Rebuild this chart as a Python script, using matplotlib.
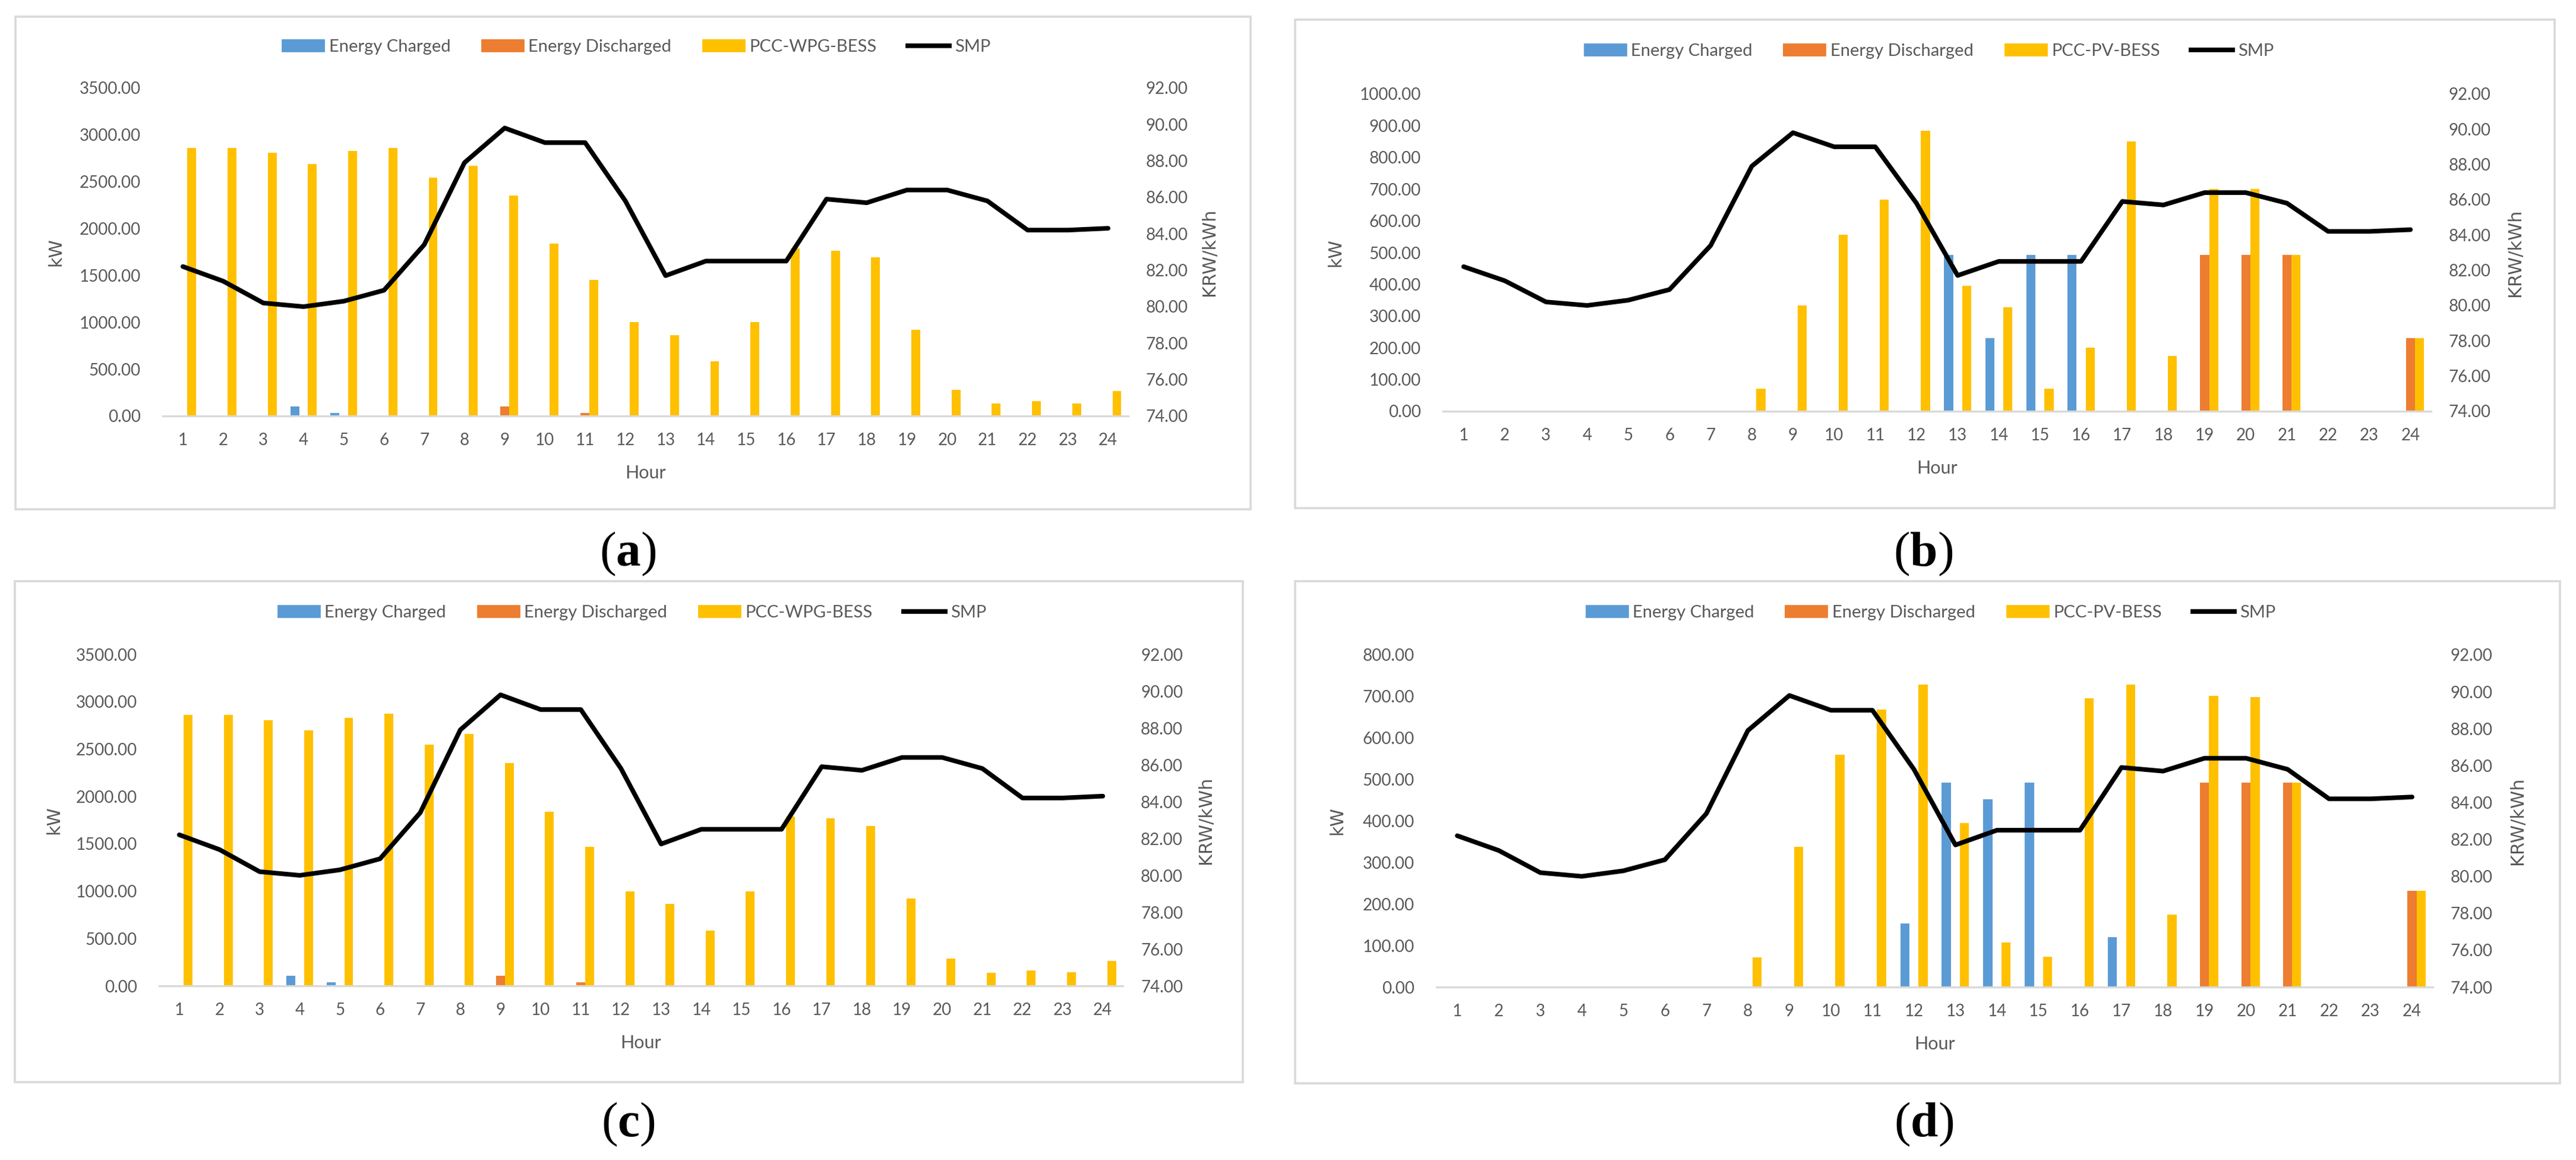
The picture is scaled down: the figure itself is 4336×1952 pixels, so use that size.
import numpy as np
import matplotlib
matplotlib.use('Agg')
import matplotlib.pyplot as plt
from matplotlib.patches import Rectangle, Patch
from matplotlib.lines import Line2D
from matplotlib.ticker import FormatStrFormatter

plt.rcParams['font.family'] = ['Lato', 'DejaVu Sans']
plt.rcParams['mathtext.fontset'] = 'custom'
plt.rcParams['mathtext.rm'] = 'Liberation Serif'
plt.rcParams['mathtext.bf'] = 'Liberation Serif:bold'

# ---- data ----
hours = [1, 2, 3, 4, 5, 6, 7, 8, 9, 10, 11, 12, 13, 14, 15, 16, 17, 18, 19, 20, 21, 22, 23, 24]
smp = [82.2, 81.4, 80.2, 80.0, 80.3, 80.9, 83.4, 87.9, 89.8, 89.0, 89.0, 85.8,
       81.7, 82.5, 82.5, 82.5, 85.9, 85.7, 86.4, 86.4, 85.8, 84.2, 84.2, 84.3]

# (a) wind, case 1
charged_a = [0, 0, 0, 100, 30, 0, 0, 0, 0, 0, 0, 0, 0, 0, 0, 0, 0, 0, 0, 0, 0, 0, 0, 0]
discharged_a = [0, 0, 0, 0, 0, 0, 0, 0, 100, 0, 30, 0, 0, 0, 0, 0, 0, 0, 0, 0, 0, 0, 0, 0]
pcc_a = [2860, 2860, 2810, 2690, 2830, 2860, 2540, 2670, 2350, 1840, 1450, 1000,
         865, 585, 1000, 1790, 1760, 1690, 920, 280, 135, 160, 135, 265]

# (b) PV, case 1
charged_b = [0, 0, 0, 0, 0, 0, 0, 0, 0, 0, 0, 0, 492, 230, 492, 492, 0, 0, 0, 0, 0, 0, 0, 0]
discharged_b = [0, 0, 0, 0, 0, 0, 0, 0, 0, 0, 0, 0, 0, 0, 0, 0, 0, 0, 492, 492, 492, 0, 0, 230]
pcc_b = [0, 0, 0, 0, 0, 0, 0, 72, 333, 556, 666, 883,
         395, 327, 72, 201, 850, 174, 700, 700, 492, 0, 0, 230]

# (c) wind, case 2
charged_c = [0, 0, 0, 105, 40, 0, 0, 0, 0, 0, 0, 0, 0, 0, 0, 0, 0, 0, 0, 0, 0, 0, 0, 0]
discharged_c = [0, 0, 0, 0, 0, 0, 0, 0, 105, 0, 40, 0, 0, 0, 0, 0, 0, 0, 0, 0, 0, 0, 0, 0]
pcc_c = [2860, 2860, 2805, 2700, 2830, 2870, 2545, 2660, 2350, 1835, 1470, 995,
         865, 585, 995, 1790, 1770, 1685, 920, 290, 135, 160, 145, 265]

# (d) PV, case 2
charged_d = [0, 0, 0, 0, 0, 0, 0, 0, 0, 0, 0, 153, 492, 452, 492, 0, 120, 0, 0, 0, 0, 0, 0, 0]
discharged_d = [0, 0, 0, 0, 0, 0, 0, 0, 0, 0, 0, 0, 0, 0, 0, 0, 0, 0, 492, 492, 492, 0, 0, 232]
pcc_d = [0, 0, 0, 0, 0, 0, 0, 71, 338, 559, 669, 729,
         395, 108, 73, 696, 729, 175, 701, 698, 492, 0, 0, 232]

BLUE = '#5B9BD5'
ORANGE = '#ED7D31'
YELLOW = '#FFC000'
GRAY_TXT = '#595959'
GRAY_LINE = '#D9D9D9'

W, H = 4336, 1952
DPI = 200


def fx(px):
    return px / W


def fy(py):
    return 1 - py / H


def draw_panel(fig, box, plot, leg_xy, kw_x, krw_x, tag, tag_xy,
               charged, discharged, pcc, pcc_name, ymax, ystep):
    # outer frame of the panel
    bx0, by0, bx1, by1 = box
    fig.add_artist(Rectangle((fx(bx0), fy(by1)), (bx1 - bx0) / W, (by1 - by0) / H,
                             transform=fig.transFigure, fill=False,
                             ec=GRAY_LINE, lw=1.3))
    px0, py0, px1, py1 = plot
    ax = fig.add_axes([fx(px0), fy(py1), (px1 - px0) / W, (py1 - py0) / H])
    x = np.arange(len(hours))
    w = 0.22
    ax.bar(x - w, charged, w, color=BLUE)
    ax.bar(x, discharged, w, color=ORANGE)
    ax.bar(x + w, pcc, w, color=YELLOW)
    ax.set_xlim(-0.5, len(hours) - 0.5)
    ax.set_ylim(0, ymax)
    ax.set_yticks(np.arange(0, ymax + ystep / 2, ystep))
    ax.yaxis.set_major_formatter(FormatStrFormatter('%.2f'))
    ax.set_xticks(x)
    ax.set_xticklabels(hours)
    for s in ['top', 'left', 'right']:
        ax.spines[s].set_visible(False)
    ax.spines['bottom'].set_color(GRAY_LINE)
    ax.spines['bottom'].set_linewidth(1.2)
    ax.tick_params(length=0, colors=GRAY_TXT, labelsize=10)
    ax.tick_params(axis='y', pad=13.3)
    ax.tick_params(axis='x', pad=10.0)

    ax2 = ax.twinx()
    ax2.plot(x, smp, color='black', lw=2.8, solid_joinstyle='round',
             solid_capstyle='round')
    ax2.set_ylim(74, 92)
    ax2.set_yticks(np.arange(74, 92.5, 2))
    ax2.yaxis.set_major_formatter(FormatStrFormatter('%.2f'))
    for s in ['top', 'left', 'right', 'bottom']:
        ax2.spines[s].set_visible(False)
    ax2.tick_params(length=0, colors=GRAY_TXT, labelsize=10, pad=10.8)

    ph = py1 - py0
    ax.text(0.5, -96 / ph, 'Hour', transform=ax.transAxes, ha='center',
            va='center', fontsize=11, color=GRAY_TXT)
    cy = (py0 + py1) / 2
    fig.text(fx(kw_x), fy(cy), 'kW', rotation=90, ha='center', va='center',
             family='DejaVu Sans', fontsize=11, color=GRAY_TXT)
    fig.text(fx(krw_x), fy(cy), 'KRW/kWh', rotation=90, ha='center', va='center',
             family='DejaVu Sans', fontsize=11, color=GRAY_TXT)

    handles = [Patch(color=BLUE), Patch(color=ORANGE), Patch(color=YELLOW),
               Line2D([0], [0], color='black', lw=2.8)]
    labels = ['Energy Charged', 'Energy Discharged', pcc_name, 'SMP']
    fig.legend(handles, labels, loc='center',
               bbox_to_anchor=(fx(leg_xy[0]), fy(leg_xy[1])),
               ncol=4, frameon=False, fontsize=10.5, handlelength=2.4,
               handleheight=0.6, handletextpad=0.3, columnspacing=1.8,
               labelcolor=GRAY_TXT)

    fig.text(fx(tag_xy[0]), fy(tag_xy[1]), r'$(\mathbf{%s})$' % tag,
             ha='center', va='center', fontsize=30, color='black')


fig = plt.figure(figsize=(W / DPI, H / DPI), dpi=DPI)

draw_panel(fig, (26, 28, 2105, 857), (274, 148, 1899, 700), (1071, 79), 94, 2036,
           'a', (1057, 932), charged_a, discharged_a, pcc_a, 'PCC-WPG-BESS', 3500, 500)
draw_panel(fig, (2180, 33, 4300, 855), (2429, 158, 4092, 692), (3247, 86), 2248, 4233,
           'b', (3237, 932), charged_b, discharged_b, pcc_b, 'PCC-PV-BESS', 1000, 100)
draw_panel(fig, (25, 978, 2092, 1821), (268, 1101, 1890, 1659), (1064, 1031), 91, 2029,
           'c', (1057, 1892), charged_c, discharged_c, pcc_c, 'PCC-WPG-BESS', 3500, 500)
draw_panel(fig, (2180, 978, 4309, 1823), (2418, 1102, 4095, 1661), (3250, 1031), 2251, 4238,
           'd', (3238, 1892), charged_d, discharged_d, pcc_d, 'PCC-PV-BESS', 800, 100)

fig.savefig('out.png', dpi=DPI, facecolor='white')
